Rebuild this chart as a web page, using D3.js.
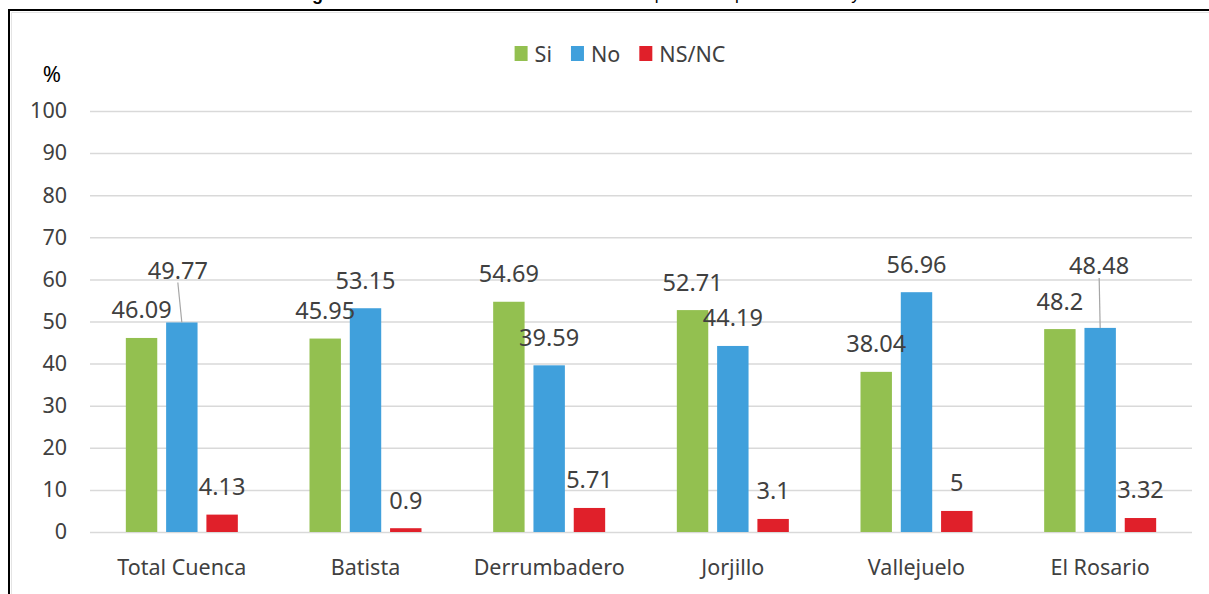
<!DOCTYPE html>
<html>
<head>
<meta charset="utf-8">
<script src="https://cdn.jsdelivr.net/npm/d3@7"></script>
<style>
  html, body { margin: 0; padding: 0; background: #fff; }
  svg { display: block; font-family: "Noto Sans", sans-serif; }
</style>
</head>
<body>
<svg width="1209" height="594"></svg>
<script>
const categories = ["Total Cuenca", "Batista", "Derrumbadero", "Jorjillo", "Vallejuelo", "El Rosario"];
const seriesNames = ["Si", "No", "NS/NC"];
const siValues = [46.09, 45.95, 54.69, 52.71, 38.04, 48.2];
const noValues = [49.77, 53.15, 39.59, 44.19, 56.96, 48.48];
const nsncValues = [4.13, 0.9, 5.71, 3.1, 5, 3.32];
const yTicks = [0, 10, 20, 30, 40, 50, 60, 70, 80, 90, 100];

const colors = { "Si": "#93c050", "No": "#40a0dc", "NS/NC": "#e0202a" };
// labels that were dragged up in the original, with a leader line
const movedLabels = { "No|Total Cuenca": [-4, -52], "No|El Rosario": [-1, -62] };

const svg = d3.select("svg");
const width = 1209, height = 594;

const values = { "Si": siValues, "No": noValues, "NS/NC": nsncValues };
const rows = categories.map((c, i) => ({
    cat: c,
    items: seriesNames.map(s => ({ s, c, v: values[s][i] }))
}));

const x0 = d3.scaleBand().domain(categories).range([90, 1192]);
const groupW = 112;
const x1 = d3.scaleBand().domain(seriesNames).range([0, groupW]).paddingInner(0.22);
const y = d3.scaleLinear().domain([0, 100]).range([532, 111]);

// frame + title (page is cropped, only the bottom of the title shows)
svg.append("path")
    .attr("d", `M9,${height + 5}V10H${width + 5}`)
    .attr("fill", "none").attr("stroke", "#000").attr("stroke-width", 2);
svg.append("path")
    .attr("d", `M11.5,${height + 5}V12.5H${width + 5}`)
    .attr("fill", "none").attr("stroke", "#e4e4e4").attr("stroke-width", 1);

const title = svg.append("text")
    .attr("y", -0.5)
    .style("font-family", "'Liberation Sans', Arial, sans-serif")
    .style("font-size", "18px")
    .attr("fill", "#000");
title.append("tspan").attr("x", 296).style("font-weight", "bold").text("Figura 4.21.");
title.append("tspan").attr("x", 443).style("font-size", "17px")
    .text("Conocimiento sobre uso de pesticidas por subcuenca y cuenca");

// y axis with gridlines
const yAxis = svg.append("g")
    .attr("transform", "translate(90,0)")
    .call(d3.axisLeft(y).tickValues(yTicks).tickSize(-1102).tickPadding(23));
yAxis.select(".domain").remove();
yAxis.selectAll(".tick line")
    .attr("stroke", "#d9d9d9").attr("stroke-width", 1.5);
yAxis.selectAll(".tick text")
    .attr("fill", "#404040")
    .style("font-size", "21.5px")
    .style("font-family", "'Noto Sans', sans-serif");

svg.append("text")
    .attr("x", 52).attr("y", 82)
    .attr("text-anchor", "middle")
    .attr("fill", "#000")
    .style("font-size", "22px")
    .text("%");

// x axis labels
const xAxis = svg.append("g")
    .attr("transform", "translate(0,532)")
    .call(d3.axisBottom(x0).tickSize(0).tickPadding(28));
xAxis.select(".domain").remove();
xAxis.selectAll(".tick text")
    .attr("fill", "#404040")
    .style("font-size", "21.5px")
    .style("font-family", "'Noto Sans', sans-serif");

// bars
const groups = svg.append("g")
    .selectAll("g")
    .data(rows)
    .enter()
    .append("g")
    .attr("transform", d => `translate(${x0(d.cat) + (x0.bandwidth() - groupW) / 2},0)`);

groups.selectAll("rect")
    .data(d => d.items)
    .enter()
    .append("rect")
    .attr("x", d => x1(d.s))
    .attr("y", d => y(d.v))
    .attr("width", x1.bandwidth())
    .attr("height", d => y(0) - y(d.v))
    .attr("fill", d => colors[d.s]);

// leader lines for moved labels
groups.selectAll("line.leader")
    .data(d => d.items.filter(it => movedLabels[it.s + "|" + it.c]))
    .enter()
    .append("line")
    .attr("class", "leader")
    .attr("x1", d => x1(d.s) + x1.bandwidth() / 2 + movedLabels[d.s + "|" + d.c][0])
    .attr("y1", d => y(d.v) + movedLabels[d.s + "|" + d.c][1] + 12)
    .attr("x2", d => x1(d.s) + x1.bandwidth() / 2)
    .attr("y2", d => y(d.v))
    .attr("stroke", "#a6a6a6")
    .attr("stroke-width", 1.2);

// value labels
groups.selectAll("text.val")
    .data(d => d.items)
    .enter()
    .append("text")
    .attr("class", "val")
    .attr("x", d => {
        const m = movedLabels[d.s + "|" + d.c];
        return x1(d.s) + x1.bandwidth() / 2 + (m ? m[0] : 0);
    })
    .attr("y", d => {
        const m = movedLabels[d.s + "|" + d.c];
        return y(d.v) + (m ? m[1] : -28);
    })
    .attr("dy", "0.36em")
    .attr("text-anchor", "middle")
    .attr("fill", "#404040")
    .style("font-size", "23.5px")
    .text(d => String(d.v));

// legend
const legend = svg.append("g").attr("transform", "translate(0,54)");
let lx = 0;
const legendItems = legend.selectAll("g")
    .data(seriesNames)
    .enter()
    .append("g");
legendItems.append("rect")
    .attr("y", -8).attr("width", 13).attr("height", 15)
    .attr("fill", d => colors[d]);
legendItems.append("text")
    .attr("x", 20).attr("dy", "0.35em")
    .attr("fill", "#404040")
    .style("font-size", "21.5px")
    .text(d => d);
legendItems.each(function () {
    d3.select(this).attr("transform", `translate(${lx},0)`);
    lx += 20 + d3.select(this).select("text").node().getComputedTextLength() + 19;
});
const legendW = lx - 19;
legend.attr("transform", `translate(${620 - legendW / 2},54)`);
</script>
</body>
</html>
